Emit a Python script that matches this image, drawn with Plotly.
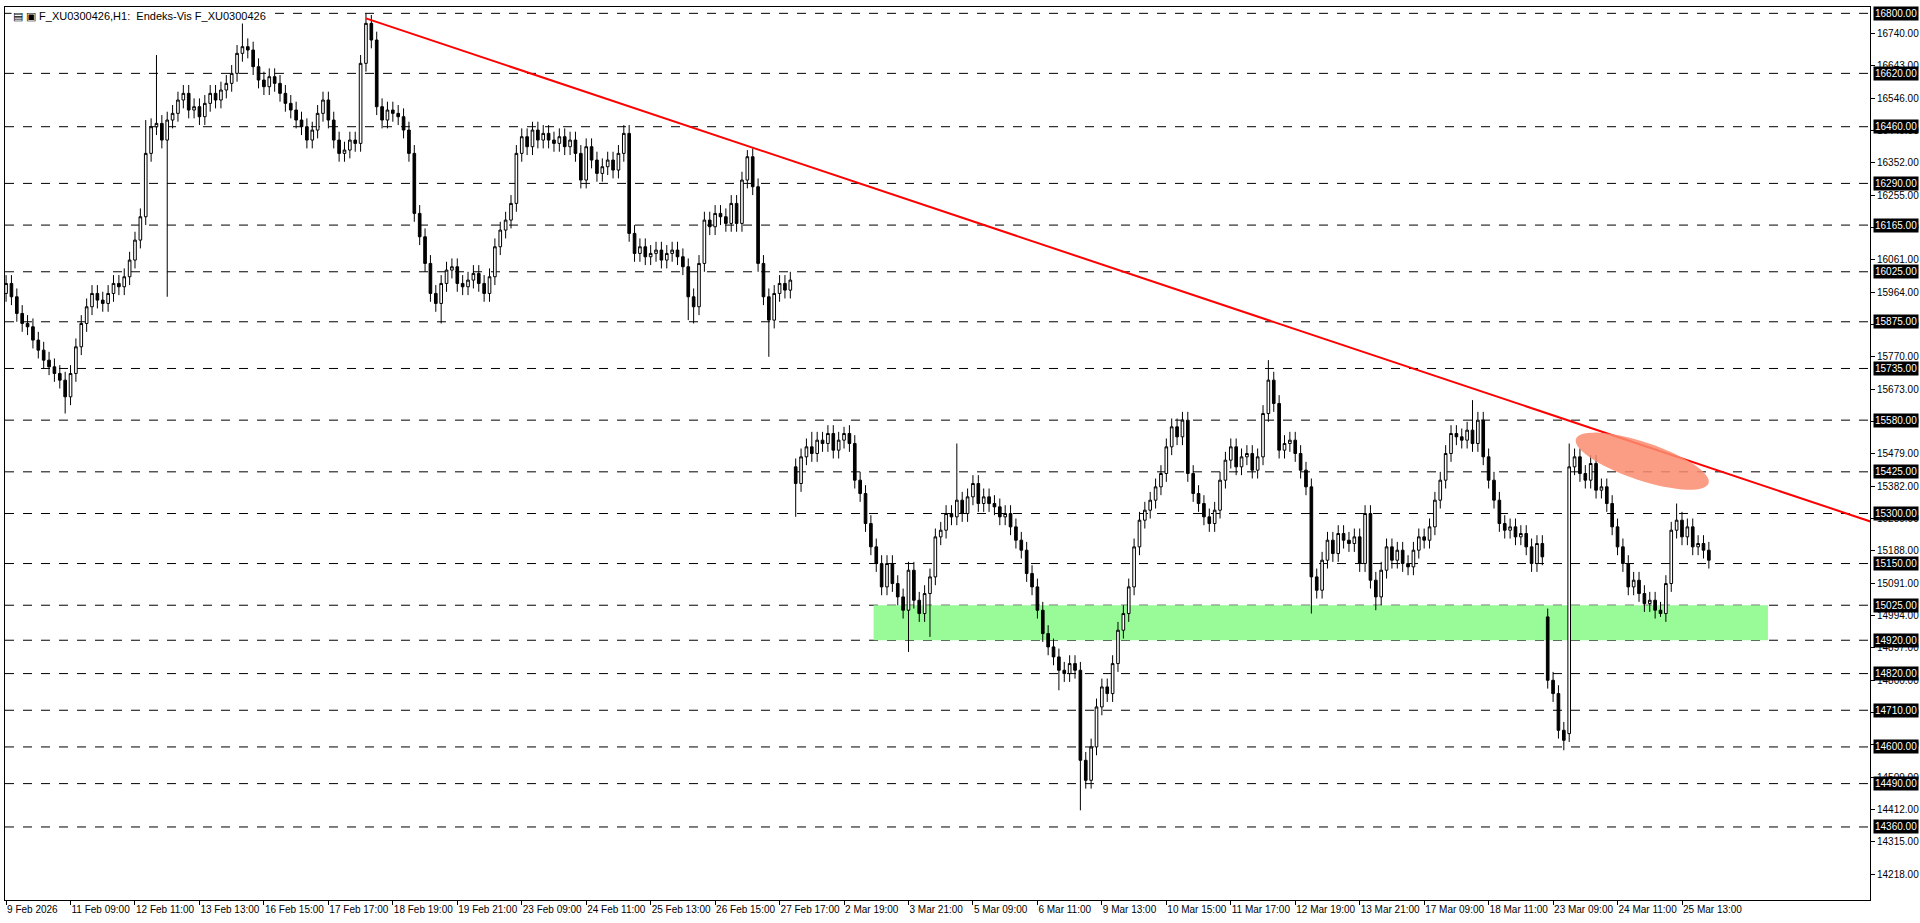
import math
import plotly.graph_objects as go

closes = [
 15990,15950,15900,15870, 15860,15820,15790,15760,15740, 15720,15700,15650,15720,
 15800,15870,15920,15960, 15940,15930,15960,15990,15980,16010,16060,16120,
 16190,16380,16460,16470,16420,
 16480,16500,16540,16560,16510,16520,16490,16530,16560,16540,16570,16590,16620,16680,
 16700,16690,16640,16600,
 16580,16610,16590,16560,16530,16510,16480,
 16460,16420,16450,16500,16540,16480,16420,16380,16390,16420,16410,
 16650,16770,16720,
 16520,16480,16510,16500,16490,16450,16380,
 16200,16130,16050,
 15960,15930,15990,16030,
 16040,15990,15980,16000,16020,15990,15960,16010,
 16100,16150,16180,16230,16380,
 16430,16400,16450,16420,16440,
 16420,16410,16430,16400,16420,16380,16300,
 16400,16360,16320,16340,16360,16330,16380,16440,
 16140,16080,
 16100,16070,16080,16090,16060,16080,16090,16070,16040,
 15950,15920,
 16050,16180,16160,16200,16190,16170,16230,
 16170,16300,16370,
 16280,16050,15950,15880,
 15960,15990,15970,16000,
 15390,15470,15500,15480,15520,15510,15540,15490,15520,15540,15510,
 15400,15360,15270,15200,15150,15080,
 15150,15090,15050,15010,15130,15040,15000,15060,15110,15230,
 15250,15300,15290,15340,15300,15350,15390,15330,
 15350,15330,15320,15290,15300,15260,15220,15190,15120,15080,
 15010,14940,14900,14870,14830,
 14820,14850,14830,
 14560,14500,14600,14720,
 14780,14760,14850,14950,15000,
 15080,15200,15280,15310,15340,15380,
 15420,15500,15560,15530,15580,
 15420,15360,15330,15290,15270,15310,
 15400,15460,15500,15440,15470,15480,15430,15470,15600,
 15700,15630,
 15490,15510,15520,15480,15430,15380,15110,
 15070,15160,15220,15180,15240,15220,15210,15230,15150,15300,
 15100,15050,15130,15200,15160,15190,15150,15140,
 15190,15230,15220,15260,15340,15400,15480,15540,
 15530,15520,15550,15510,15580,15470,
 15400,15340,15270,15250,15260,15230,15240,15200,
 15150,15210,15170,
 14800,14760,14650,14620,
 15440,15470,15420,
 15400,15450,15370,15380,15330,
 15260,15200,15150,15080,15100,
 15060,15030,15040,15010,15000,15090,
 15250,15280,15230,15260,15200,15210,15190,15160,
]
first_open = 15960
gap_opens = {147: 15440, 291: 14640, 287: 14990}
high_marks = {44: 16796, 67: 16800, 28: 16675, 138: 16390, 177: 15510, 235: 15760,
              273: 15640, 291: 15510, 311: 15330, 26: 16480, 150: 15545, 156: 15560}
low_marks = {11: 15600, 30: 15950, 81: 15870, 128: 15870, 142: 15770, 147: 15290,
             168: 14885, 196: 14770, 200: 14410, 243: 15000, 255: 15010,
             290: 14590, 308: 14990, 127: 15880, 172: 14930}
wick = 25

level_lines = [16800,16620,16460,16290,16165,16025,15875,15735,15580,15425,15300,
               15150,15025,14920,14820,14710,14600,14490,14360]
axis_ticks = [16740,16643,16546,16449,16352,16255,16158,16061,15964,15867,15770,15673,
              15576,15479,15382,15285,15188,15091,14994,14897,14800,14703,14606,
              14509,14412,14315,14218]
x_labels = ["9 Feb 2026","11 Feb 09:00","12 Feb 11:00","13 Feb 13:00","16 Feb 15:00",
            "17 Feb 17:00","18 Feb 19:00","19 Feb 21:00","23 Feb 09:00","24 Feb 11:00",
            "25 Feb 13:00","26 Feb 15:00","27 Feb 17:00","2 Mar 19:00","3 Mar 21:00",
            "5 Mar 09:00","6 Mar 11:00","9 Mar 13:00","10 Mar 15:00","11 Mar 17:00",
            "12 Mar 19:00","13 Mar 21:00","17 Mar 09:00","18 Mar 11:00","23 Mar 09:00",
            "24 Mar 11:00","25 Mar 13:00"]
trend_start = (67, 16785)
trend_end = (356, 15228)
zone = (161.5, 328, 14920, 15025)

n = len(closes)
opens, highs, lows = [], [], []
for i in range(n):
    o = first_open if i == 0 else gap_opens.get(i, closes[i-1])
    opens.append(o)
    highs.append(high_marks.get(i, max(o, closes[i]) + wick))
    lows.append(low_marks.get(i, min(o, closes[i]) - wick))
x = list(range(n))

FONT = "Liberation Sans"
fig = go.Figure()
fig.add_trace(go.Candlestick(x=x, open=opens, high=highs, low=lows, close=closes,
    increasing=dict(line=dict(color="black", width=1), fillcolor="white"),
    decreasing=dict(line=dict(color="black", width=1), fillcolor="black"),
    whiskerwidth=0, showlegend=False, hoverinfo="skip"))

shapes = []
shapes.append(dict(type="rect", xref="x", yref="y", x0=zone[0], x1=zone[1], y0=zone[2], y1=zone[3],
                   fillcolor="rgba(152,251,152,1)", line_width=0, layer="below"))
for lv in level_lines:
    shapes.append(dict(type="line", xref="paper", yref="y", x0=0, x1=1, y0=lv, y1=lv,
                       line=dict(color="black", width=1, dash="dash"), layer="below"))
shapes.append(dict(type="line", xref="x", yref="y", x0=trend_start[0], y0=trend_start[1],
                   x1=trend_end[0], y1=trend_end[1], line=dict(color="red", width=2)))
bpp, ppp = 1/5.38, 3.0
cx, cy, a, b = 304.6, 15457, 70, 19
ang = math.atan2(0.334, 1)
pts = []
for k in range(60):
    t = 2*math.pi*k/60
    px = a*math.cos(t)*math.cos(ang) - b*math.sin(t)*math.sin(ang)
    py = a*math.cos(t)*math.sin(ang) + b*math.sin(t)*math.cos(ang)
    pts.append((cx + px*bpp, cy - py*ppp))
path = "M " + " L ".join(f"{p[0]:.3f},{p[1]:.2f}" for p in pts) + " Z"
shapes.append(dict(type="path", xref="x", yref="y", path=path,
                   fillcolor="rgba(250,140,110,0.85)", line_width=0))

ann = []
for lv in level_lines:
    ann.append(dict(xref="paper", yref="y", x=1.0015, y=lv, xanchor="left", yanchor="middle",
                    text=f"{lv:.2f}", showarrow=False, bgcolor="black",
                    font=dict(color="white", size=10, family=FONT), borderpad=1))
ann.append(dict(xref="paper", yref="paper", x=0.003, y=0.999, xanchor="left", yanchor="top",
                text="▤ ▣ F_XU0300426,H1:  Endeks-Vis F_XU0300426", showarrow=False,
                bgcolor="white", font=dict(color="black", size=11, family=FONT)))

fig.update_layout(
    width=1920, height=923, autosize=False,
    margin=dict(l=5, r=50, t=7, b=23, autoexpand=False),
    paper_bgcolor="white", plot_bgcolor="white",
    shapes=shapes, annotations=ann,
    xaxis=dict(range=[-0.2, 347], rangeslider=dict(visible=False), showgrid=False,
               tickvals=[12*k for k in range(len(x_labels))], ticktext=x_labels,
               tickangle=0, automargin=False, ticklabelposition="outside right",
               ticks="outside", ticklen=4, tickcolor="black",
               tickfont=dict(size=10, family=FONT, color="black"),
               showline=True, linecolor="black", mirror=True, zeroline=False),
    yaxis=dict(range=[14141, 16819], side="right", showgrid=False, automargin=False,
               tickvals=axis_ticks, ticktext=[f"{v:.2f}" for v in axis_ticks],
               ticks="outside", ticklen=4, tickcolor="black",
               tickfont=dict(size=10, family=FONT, color="black"),
               showline=True, linecolor="black", mirror=True, zeroline=False),
    font=dict(family=FONT),
)
fig.write_html("out.html", config={"displayModeBar": False})
with open("out.html", encoding="utf-8") as f:
    html = f.read()
html = html.replace("<head>", "<head><style>html,body{margin:0;padding:0;overflow:hidden;}</style>", 1)
with open("out.html", "w", encoding="utf-8") as f:
    f.write(html)
